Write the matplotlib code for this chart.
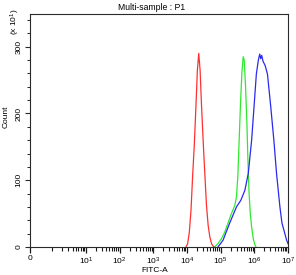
import numpy as np
import matplotlib
matplotlib.use("Agg")
import matplotlib.pyplot as plt
from matplotlib.ticker import FixedLocator, NullFormatter

plt.rcParams['font.family'] = ['Liberation Sans', 'DejaVu Sans']
plt.rcParams['mathtext.fontset'] = 'custom'
plt.rcParams['mathtext.rm'] = 'Liberation Sans'
plt.rcParams['mathtext.it'] = 'Liberation Sans'

# histogram outlines, x given as decade exponent of FITC-A, y as count (x10)
red_log = [3.97, 4.02, 4.07, 4.12, 4.17, 4.22, 4.27, 4.31, 4.35, 4.39, 4.43,
           4.48, 4.53, 4.58, 4.63, 4.68, 4.73, 4.78, 4.82]
red_cnt = [0, 5, 22, 55, 108, 155, 215, 265, 290, 265, 215,
           160, 110, 62, 32, 15, 5, 1, 0]

green_log = [4.82, 4.92, 5.02, 5.12, 5.22, 5.32, 5.42, 5.47, 5.51, 5.55, 5.59,
             5.63, 5.67, 5.70, 5.74, 5.78, 5.81, 5.84, 5.88, 5.92, 5.97, 6.02, 6.05]
green_cnt = [0, 5, 12, 22, 36, 50, 62, 75, 105, 160, 215,
             260, 285, 280, 240, 185, 130, 85, 50, 30, 12, 3, 0]

blue_log = [4.92, 5.07, 5.27, 5.47, 5.60, 5.72, 5.82, 5.92, 5.99, 6.06, 6.12,
            6.16, 6.19, 6.22, 6.26, 6.32, 6.39, 6.49, 6.58, 6.66, 6.76, 6.82,
            6.96, 7.0]
blue_cnt = [0, 10, 36, 60, 70, 85, 110, 160, 209, 259, 280,
            289, 282, 287, 278, 272, 259, 209, 160, 110, 60, 36,
            10, 5]

xticks = [0, 1e1, 1e2, 1e3, 1e4, 1e5, 1e6, 1e7]
xtick_labels = ['0', '$10^1$', '$10^2$', '$10^3$', '$10^4$', '$10^5$', '$10^6$', '$10^7$']
yticks = [0, 100, 200, 300]

fig = plt.figure(figsize=(2.96, 2.75), dpi=100)
ax = fig.add_axes([30/296, 28/275, 258/296, 233/275])

ax.plot(10**np.array(red_log), red_cnt, color='#ff3030', lw=0.9)
ax.plot(10**np.array(green_log), green_cnt, color='#30e830', lw=0.9)
ax.plot(10**np.array(blue_log), blue_cnt, color='#2a2af0', lw=0.9)

ax.set_xscale('symlog', linthresh=1, linscale=0.594)
ax.set_xlim(0, 1e7)
ax.set_ylim(0, 349)

ax.xaxis.set_major_locator(FixedLocator(xticks))
ax.set_xticklabels(xtick_labels)
minor = [float(k * 10**n) for n in range(0, 7) for k in range(1, 10)
         if not (k == 1 and n > 0)]
ax.xaxis.set_minor_locator(FixedLocator(minor))
ax.xaxis.set_minor_formatter(NullFormatter())
ax.set_yticks(yticks)
ax.set_yticks(np.arange(20, 349, 20), minor=True)

for s in ax.spines.values():
    s.set_color('#2a2a2a')
    s.set_linewidth(0.8)

ax.tick_params(which='major', length=3.5, width=0.8, color='#2a2a2a',
               labelsize=6, pad=2)
ax.tick_params(which='minor', length=2.5, width=0.7, color='#2a2a2a')
ax.tick_params(axis='x', which='both', direction='out', color='#1a1a1a')
ax.tick_params(axis='x', which='major', length=4, width=0.9)
ax.tick_params(axis='x', which='minor', length=3, width=0.8)
ax.tick_params(axis='y', labelrotation=90)
for lab in ax.get_yticklabels():
    lab.set_va('center')

ax.set_title('Multi-sample : P1', fontsize=6.2, x=0.47, pad=3)
ax.set_xlabel('FITC-A', fontsize=6, labelpad=1)
ax.xaxis.set_label_coords(0.485, -0.085)
ax.set_ylabel('Count', fontsize=6)
ax.yaxis.set_label_coords(-0.08, 0.56)
fig.text(15.5/296, 1 - 22/275, '(x 10$^1$)', fontsize=6, rotation=90,
         ha='center', va='center')

fig.savefig('out.png', dpi=100)
